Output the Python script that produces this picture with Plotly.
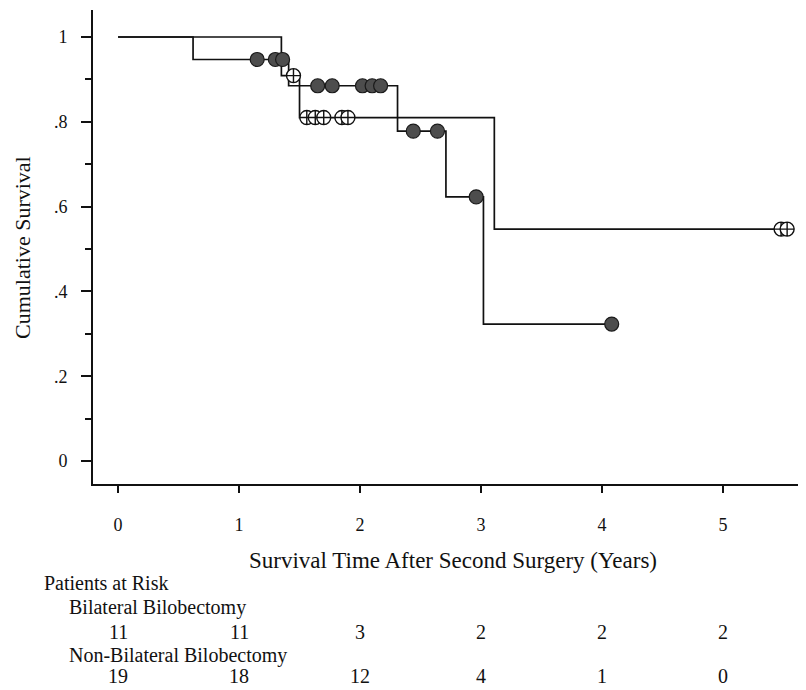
import plotly.graph_objects as go

# Non-Bilateral Bilobectomy (filled circles)
nb_time = [0, 0.62, 1.41, 2.31, 2.71, 3.02, 4.08]
nb_surv = [1.0, 0.947, 0.885, 0.778, 0.623, 0.323, 0.323]
nb_cens_time = [1.15, 1.30, 1.36, 1.65, 1.77, 2.02, 2.10, 2.17, 2.44, 2.64, 2.96, 4.08]
nb_cens_surv = [0.947, 0.947, 0.947, 0.885, 0.885, 0.885, 0.885, 0.885, 0.778, 0.778, 0.623, 0.323]

# Bilateral Bilobectomy (open circles with cross)
bb_time = [0, 1.35, 1.50, 3.11, 5.53]
bb_surv = [1.0, 0.909, 0.810, 0.547, 0.547]
bb_cens_time = [1.45, 1.56, 1.63, 1.70, 1.85, 1.90, 5.48, 5.53]
bb_cens_surv = [0.909, 0.810, 0.810, 0.810, 0.810, 0.810, 0.547, 0.547]

# Patients at risk table
risk_years = [0, 1, 2, 3, 4, 5]
bb_risk = [11, 11, 3, 2, 2, 2]
nb_risk = [19, 18, 12, 4, 1, 0]

y_tickvals = [0, 0.2, 0.4, 0.6, 0.8, 1.0]
y_ticktext = ["0", ".2", ".4", ".6", ".8", "1"]
y_minor = [0.1, 0.3, 0.5, 0.7, 0.9]
x_tickvals = [0, 1, 2, 3, 4, 5]

FONT = "Liberation Serif"
INK = "#111111"

fig = go.Figure()

fig.add_trace(go.Scatter(x=nb_time, y=nb_surv, mode="lines",
                         line=dict(shape="hv", color=INK, width=1.7),
                         showlegend=False, hoverinfo="skip"))
fig.add_trace(go.Scatter(x=bb_time, y=bb_surv, mode="lines",
                         line=dict(shape="hv", color=INK, width=1.7),
                         showlegend=False, hoverinfo="skip"))
fig.add_trace(go.Scatter(x=nb_cens_time, y=nb_cens_surv, mode="markers",
                         marker=dict(symbol="circle", size=14, color="#4d4d4d",
                                     line=dict(color="#1a1a1a", width=1.2)),
                         showlegend=False))
fig.add_trace(go.Scatter(x=bb_cens_time, y=bb_cens_surv, mode="markers",
                         marker=dict(symbol="circle-cross", size=14, color="white",
                                     line=dict(color=INK, width=1.4)),
                         showlegend=False))

# plot area in reference pixels: x 93..806, y 10..484
def py(p):
    return (484 - p) / 474.0

def px(p):
    return (p - 93) / 713.0

annotations = []
def label(text, x, y, size, xanchor="left", xref="paper", angle=0):
    annotations.append(dict(text=text, xref=xref, yref="paper", x=x, y=y,
                            xanchor=xanchor, yanchor="middle", showarrow=False,
                            textangle=angle,
                            font=dict(family=FONT, size=size, color=INK)))

label("Survival Time After Second Surgery (Years)", px(453), py(560), 23, xanchor="center")
label("Cumulative Survival", px(22), py(248), 22, xanchor="center", angle=-90)
label("Patients at Risk", px(42), py(583), 20)
label("Bilateral Bilobectomy", px(67), py(607), 20)
label("Non-Bilateral Bilobectomy", px(67), py(655), 20)
for yr, n in zip(risk_years, bb_risk):
    label(str(n), yr, py(632), 20, xanchor="center", xref="x")
for yr, n in zip(risk_years, nb_risk):
    label(str(n), yr, py(676), 20, xanchor="center", xref="x")

fig.update_layout(
    width=798, height=682,
    margin=dict(l=85, r=0, t=2, b=206),
    paper_bgcolor="white", plot_bgcolor="white",
    font=dict(family=FONT, size=18, color=INK),
    annotations=annotations,
    xaxis=dict(range=[-0.207, 5.686], tickmode="array", tickvals=x_tickvals,
               ticks="outside", ticklen=7, tickwidth=1.5, tickcolor=INK,
               showline=True, linecolor=INK, linewidth=1.8,
               showgrid=False, zeroline=False, ticklabelstandoff=16,
               tickfont=dict(family=FONT, size=18, color=INK)),
    yaxis=dict(range=[-0.0542, 1.0637], tickmode="array", tickvals=y_tickvals, ticktext=y_ticktext,
               ticks="outside", ticklen=10, tickwidth=1.5, tickcolor=INK,
               minor=dict(tickvals=y_minor, ticks="outside", ticklen=6,
                          tickwidth=1.5, tickcolor=INK),
               showline=True, linecolor=INK, linewidth=1.8,
               showgrid=False, zeroline=False, ticklabelstandoff=10,
               tickfont=dict(family=FONT, size=18, color=INK)),
)

fig.write_html("out.html")
